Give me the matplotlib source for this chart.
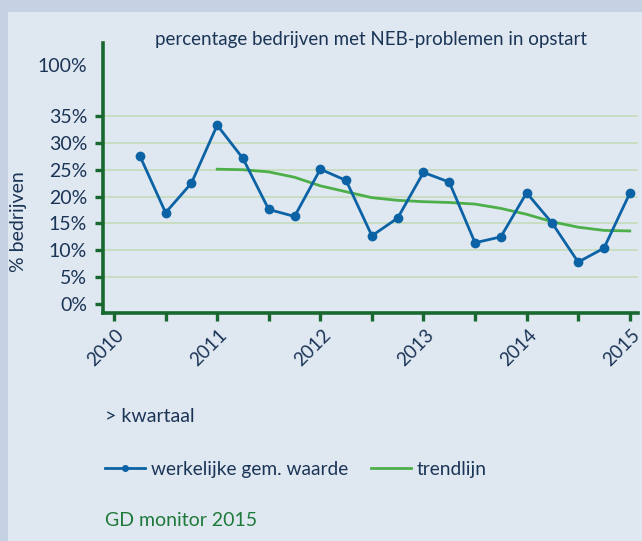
import matplotlib
matplotlib.use("Agg")
import matplotlib.pyplot as plt
import matplotlib.transforms as mtransforms
from matplotlib.lines import Line2D

# quarterly values
kwartaal = [2010.25, 2010.5, 2010.75, 2011.0, 2011.25, 2011.5, 2011.75,
            2012.0, 2012.25, 2012.5, 2012.75, 2013.0, 2013.25, 2013.5,
            2013.75, 2014.0, 2014.25, 2014.5, 2014.75, 2015.0]
werkelijk = [27.6, 17.0, 22.5, 33.3, 27.1, 17.6, 16.3, 25.1, 23.0, 12.7,
             16.0, 24.5, 22.7, 11.4, 12.5, 20.7, 15.0, 7.8, 10.4, 20.6]

trend_x = [2011.0, 2011.25, 2011.5, 2011.75, 2012.0, 2012.25, 2012.5,
           2012.75, 2013.0, 2013.25, 2013.5, 2013.75, 2014.0, 2014.25,
           2014.5, 2014.75, 2015.0]
trend = [25.1, 25.0, 24.6, 23.6, 22.0, 20.9, 19.8, 19.3, 19.05, 18.9,
         18.6, 17.8, 16.7, 15.3, 14.3, 13.7, 13.6]

jaren = [2010, 2011, 2012, 2013, 2014, 2015]
halfjaren = [2010.5, 2011.5, 2012.5, 2013.5, 2014.5]
y_ticks = [0, 5, 10, 15, 20, 25, 30, 35, 44.5]
y_labels = ["0%", "5%", "10%", "15%", "20%", "25%", "30%", "35%", "100%"]

TXT = "#1b3557"
DKGREEN = "#17692f"
BLUE = "#0b63a5"
TGREEN = "#4caf4a"
GRID = "#c4dbb9"
PANEL = "#dfe7f0"
EDGE = "#c5d2e3"

plt.rcParams["font.family"] = ["Lato", "DejaVu Sans"]

W, H = 642, 541
fig = plt.figure(figsize=(W / 100, H / 100), dpi=100)
fig.patch.set_facecolor(EDGE)
fig.patches.append(plt.Rectangle((8 / W, 0), 1, 1 - 12 / H, transform=fig.transFigure,
                                 facecolor=PANEL, edgecolor="none", zorder=-10))

ax = fig.add_axes([103 / W, 1 - 313 / H, (638 - 103) / W, (313 - 43) / H])
ax.set_zorder(2)
ax.set_facecolor("none")
ax.set_xlim(2009.893, 2015.08)
ax.set_ylim(-1.68, 48.6)

ax.plot(trend_x, trend, color=TGREEN, lw=2.0, solid_joinstyle="round", zorder=3)
ax.plot(kwartaal, werkelijk, color=BLUE, lw=2.0, marker="o", ms=6, zorder=4)

for s in ["top", "right"]:
    ax.spines[s].set_visible(False)
for s in ["left", "bottom"]:
    ax.spines[s].set_color(DKGREEN)
    ax.spines[s].set_linewidth(2.6)

ax.set_yticks(y_ticks)
ax.set_yticklabels(y_labels)
ax.set_xticks(jaren)
ax.set_xticklabels([str(j) for j in jaren], rotation=45, ha="center")
ax.set_xticks(halfjaren, minor=True)
ax.tick_params(axis="both", which="both", color=DKGREEN, width=2.4, length=5.5,
               labelcolor=TXT, labelsize=14)
ax.tick_params(axis="y", pad=6)
ax.tick_params(axis="x", which="both", pad=4, labelsize=13.5)

ax.grid(axis="y", color=GRID, lw=1.2)
yt = ax.yaxis.get_major_ticks()
yt[0].gridline.set_visible(False)
yt[-1].gridline.set_visible(False)
yt[-1].tick1line.set_visible(False)

shift = mtransforms.ScaledTranslation(-8 / 100, 0, fig.dpi_scale_trans)
for lab in ax.get_xticklabels():
    lab.set_transform(lab.get_transform() + shift)

fig.text(371 / W, 1 - 40 / H, "percentage bedrijven met NEB-problemen in opstart",
         ha="center", va="center", fontsize=13.5, color=TXT)
fig.text(19 / W, 1 - 222 / H, "% bedrijven", rotation=90, ha="center", va="center",
         fontsize=14, color=TXT)
fig.text(105 / W, 1 - 417 / H, "> kwartaal", ha="left", va="center", fontsize=14, color=TXT)
fig.text(105 / W, 1 - 520 / H, "GD monitor 2015", ha="left", va="center", fontsize=14,
         color="#1e7a3a")

handles = [Line2D([], [], color=BLUE, lw=2.0, marker="o", ms=4),
           Line2D([], [], color=TGREEN, lw=2.0)]
fig.legend(handles, ["werkelijke gem. waarde", "trendlijn"], loc="center left",
           bbox_to_anchor=(95 / W, 1 - 469 / H), ncol=2, frameon=False, borderpad=0,
           handlelength=2.1, handletextpad=0.3, columnspacing=1.2, fontsize=13.8,
           labelcolor=TXT)

fig.savefig("out.png", dpi=100, facecolor=fig.get_facecolor())
